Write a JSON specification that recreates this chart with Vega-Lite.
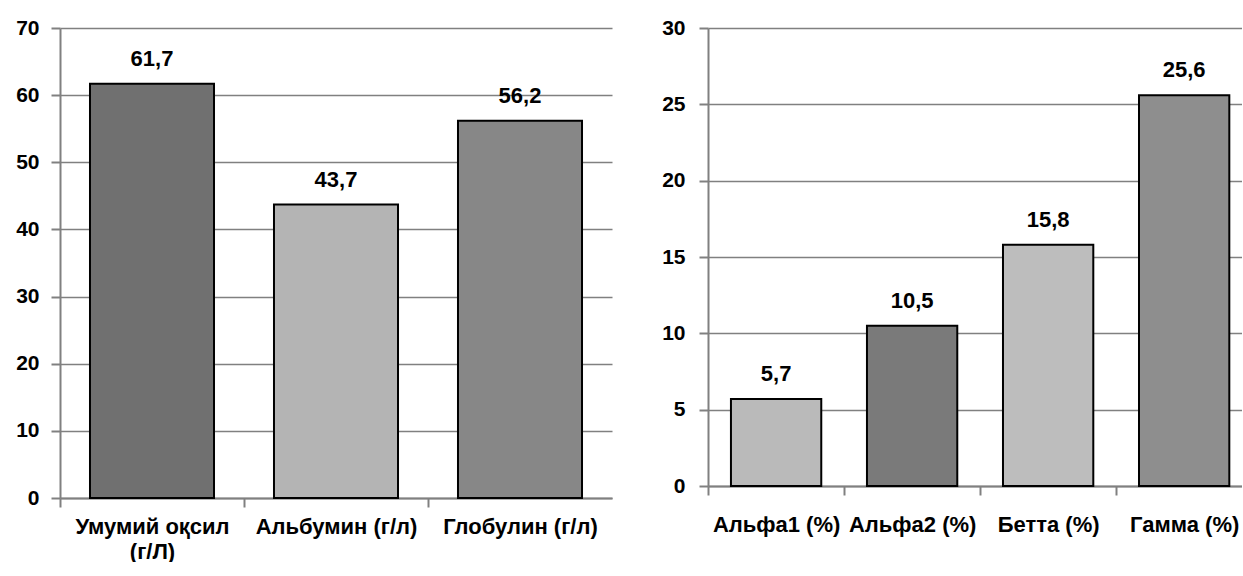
{
  "$schema": "https://vega.github.io/schema/vega-lite/v6.json",
  "autosize": {"type": "pad"},
  "padding": {"left": 15, "top": 17, "right": 0, "bottom": 0},
  "spacing": 96,
  "bounds": "flush",
  "resolve": {"scale": {"color": "independent"}},
  "config": {
    "locale": {"number": {"decimal": ",", "thousands": " ", "grouping": [3], "currency": ["", ""]}},
    "view": {"stroke": null},
    "font": "Liberation Sans, Arial, sans-serif",
    "axis": {
      "domainColor": "#808080",
      "domainWidth": 2,
      "tickColor": "#808080",
      "tickWidth": 2,
      "tickSize": 9,
      "gridColor": "#808080",
      "gridWidth": 1.5,
      "labelColor": "#000000",
      "labelFont": "Liberation Sans, Arial, sans-serif",
      "labelFontWeight": "bold",
      "labelFontSize": 22,
      "title": null
    }
  },
  "hconcat": [
    {
      "width": 552,
      "height": 470,
      "data": {
        "values": [
          {"name": "Умумий оқсил (г/Л)", "value": 61.7},
          {"name": "Альбумин (г/л)", "value": 43.7},
          {"name": "Глобулин (г/л)", "value": 56.2}
        ]
      },
      "encoding": {
        "x": {
          "field": "name",
          "type": "nominal",
          "sort": null,
          "scale": {"paddingInner": 0.326, "paddingOuter": 0.163},
          "axis": {
            "labelAngle": 0,
            "bandPosition": 0,
            "tickOffset": -30,
            "labelOffset": 30,
            "labelPadding": 9,
            "labelLimit": 400,
            "labelLineHeight": 25,
            "labelBaseline": "top",
            "labelExpr": "datum.value == 'Умумий оқсил (г/Л)' ? ['Умумий оқсил', '(г/Л)'] : datum.value"
          }
        },
        "y": {
          "field": "value",
          "type": "quantitative",
          "scale": {"domain": [0, 70]},
          "axis": {"values": [0, 10, 20, 30, 40, 50, 60, 70], "labelPadding": 12, "labelFontSize": 21, "grid": true}
        }
      },
      "layer": [
        {
          "mark": {"type": "bar", "stroke": "#000000", "strokeWidth": 2},
          "encoding": {
            "color": {
              "field": "name",
              "type": "nominal",
              "scale": {
                "domain": ["Умумий оқсил (г/Л)", "Альбумин (г/л)", "Глобулин (г/л)"],
                "range": ["#707070", "#b4b4b4", "#878787"]
              },
              "legend": null
            }
          }
        },
        {
          "mark": {"type": "text", "dy": -25, "fontWeight": "bold", "fontSize": 22, "baseline": "middle", "color": "#000000"},
          "encoding": {"text": {"field": "value", "type": "quantitative", "format": ".1f"}}
        }
      ]
    },
    {
      "width": 534,
      "height": 458,
      "data": {
        "values": [
          {"name": "Альфа1 (%)", "value": 5.7},
          {"name": "Альфа2 (%)", "value": 10.5},
          {"name": "Бетта (%)", "value": 15.8},
          {"name": "Гамма (%)", "value": 25.6}
        ]
      },
      "encoding": {
        "x": {
          "field": "name",
          "type": "nominal",
          "sort": null,
          "scale": {"paddingInner": 0.336, "paddingOuter": 0.131, "align": 0.644},
          "axis": {
            "labelAngle": 0,
            "bandPosition": 0,
            "tickOffset": -23,
            "labelOffset": 23,
            "labelPadding": 19,
            "labelLimit": 400,
            "labelBaseline": "top"
          }
        },
        "y": {
          "field": "value",
          "type": "quantitative",
          "scale": {"domain": [0, 30]},
          "axis": {"values": [0, 5, 10, 15, 20, 25, 30], "labelPadding": 14, "labelFontSize": 21, "grid": true}
        }
      },
      "layer": [
        {
          "mark": {"type": "bar", "stroke": "#000000", "strokeWidth": 2},
          "encoding": {
            "color": {
              "field": "name",
              "type": "nominal",
              "scale": {
                "domain": ["Альфа1 (%)", "Альфа2 (%)", "Бетта (%)", "Гамма (%)"],
                "range": ["#bababa", "#7a7a7a", "#bdbdbd", "#8e8e8e"]
              },
              "legend": null
            }
          }
        },
        {
          "mark": {"type": "text", "dy": -25, "fontWeight": "bold", "fontSize": 22, "baseline": "middle", "color": "#000000"},
          "encoding": {"text": {"field": "value", "type": "quantitative", "format": ".1f"}}
        }
      ]
    }
  ]
}
